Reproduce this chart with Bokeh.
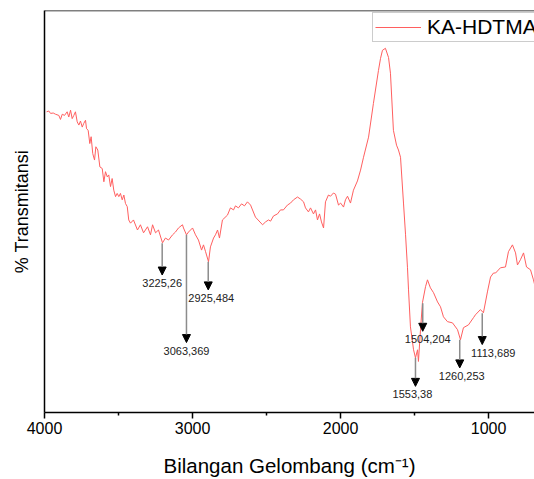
from bokeh.plotting import figure
from bokeh.models import (Range1d, FixedTicker, Arrow, NormalHead, ColumnDataSource,
                          Legend, LegendItem, Span)
from bokeh.core.properties import value
from bokeh.embed import file_html
from bokeh.resources import INLINE

# FTIR spectrum (wavenumber in cm^-1, transmittance in arbitrary %)
wavenumber = [3986, 3971, 3959, 3941, 3926, 3903, 3892, 3880, 3865, 3847, 3836, 3824, 3813, 3802,
              3791, 3779, 3768, 3757, 3745, 3735, 3723, 3716, 3705, 3694, 3685, 3674, 3662, 3653,
              3640, 3626, 3610, 3599, 3588, 3576, 3566, 3554, 3543, 3532, 3520, 3509, 3498, 3487,
              3475, 3464, 3453, 3441, 3431,
              3419, 3399, 3372, 3352, 3331, 3304, 3284, 3270, 3250, 3230, 3203, 3183, 3162, 3135,
              3115, 3095, 3068, 3061, 3041, 3027, 3000, 2980, 2960, 2939, 2926, 2912, 2892, 2879,
              2858, 2845, 2831, 2818, 2798,
              2764, 2744, 2723, 2710, 2690, 2669, 2649, 2629, 2608, 2575, 2527, 2507, 2487, 2473,
              2453, 2426, 2406, 2386, 2359, 2338, 2318, 2291, 2271, 2250, 2237, 2217, 2203, 2183,
              2169, 2156, 2142, 2129, 2115, 2102, 2082, 2068, 2048, 2034, 2014, 2000, 1980, 1967,
              1953, 1933, 1913, 1886, 1865, 1845, 1811, 1778, 1744, 1730, 1717, 1697, 1676, 1663,
              1643, 1622, 1609, 1595, 1575, 1561, 1548, 1541, 1528, 1507, 1494, 1480, 1474, 1460,
              1447, 1426, 1413, 1393, 1372, 1345, 1325, 1305, 1278, 1244, 1210, 1190, 1170, 1136,
              1102, 1089, 1055, 1035, 1008, 987, 967, 953, 920, 886, 866, 839, 818, 805, 785, 764,
              744, 717, 697, 676]
transmittance = [74.8, 75.0, 74.4, 74.5, 74.2, 73.9, 72.9, 74.2, 73.9, 74.8, 73.5, 75.2, 73.1, 73.9,
                 74.8, 72.3, 71.5, 72.5, 71.0, 71.9, 72.7, 70.6, 70.2, 66.9, 68.6, 64.4, 62.8, 66.1,
                 65.3, 61.1, 60.7, 57.4, 59.9, 58.6, 59.1, 56.2, 58.2, 55.3, 53.7, 54.5, 53.7, 54.5,
                 52.9, 54.1, 52.0, 51.2, 47.9,
                 47.1, 47.9, 45.4, 46.7, 44.7, 46.2, 44.2, 46.7, 44.7, 45.4, 42.2, 43.4, 42.9, 44.2,
                 44.9, 45.9, 46.7, 45.9, 44.2, 44.9, 45.9, 44.2, 42.9, 40.4, 41.7, 40.0, 37.5, 41.2,
                 43.4, 44.2, 45.4, 43.4, 47.9,
                 49.1, 50.9, 50.4, 51.4, 50.9, 51.9, 51.4, 52.4, 51.6, 48.6, 46.7, 47.4, 47.9, 47.6,
                 48.9, 49.4, 50.4, 50.4, 51.6, 52.1, 52.9, 53.6, 53.1, 52.4, 50.9, 49.9, 50.9, 49.4,
                 50.4, 47.9, 49.4, 47.4, 45.9, 52.4, 54.1, 53.8, 54.6, 54.3, 51.6, 52.1, 51.1, 52.9,
                 53.8, 52.1, 55.3, 57.6, 60.3, 63.5, 68.5, 76.9, 85.1, 88.1, 90.1, 90.6, 88.3, 84.4,
                 70.2, 66.5, 65.3, 63.5, 52.1, 44.2, 36.0, 30.5, 21.3, 15.6, 13.6, 15.6, 12.7, 20.6,
                 27.3, 31.3, 33.0, 31.0, 29.8, 27.5, 26.3, 23.8, 22.6, 22.3, 20.6, 18.1, 21.1, 21.8,
                 23.6, 24.3, 25.6, 24.8, 30.0, 33.7, 34.7, 34.7, 36.0, 36.2, 40.0, 41.7, 39.7, 36.7,
                 38.0, 39.7, 36.2, 35.5, 33.0, 29.8]

# Peak annotations
peak_labels = ["3225,26", "3063,369", "2925,484", "1553,38", "1504,204", "1260,253", "1113,689"]
peak_x = [3205, 3041, 2894, 1494, 1445, 1195, 1043]
peak_top = [42.1, 44.2, 37.5, 13.6, 27.2, 18.1, 24.7]
peak_tip = [34.2, 17.4, 30.5, 6.5, 20.2, 11.1, 16.9]

x_ticks = [4000, 3000, 2000, 1000]
x_minor = [3500, 2500, 1500]

# label nudges in screen pixels (style only)
label_dx = [0, 0, 3, -3, 5, 2, 11]

FONT = "Liberation Sans"

p = figure(width=534, height=479, output_backend="svg", toolbar_location=None,
           x_range=Range1d(4000, 690), y_range=Range1d(0, 100),
           min_border_left=44, min_border_right=0, min_border_top=10, min_border_bottom=0,
           background_fill_color="white", border_fill_color="white")
p.outline_line_color = None
p.xgrid.visible = False
p.ygrid.visible = False

r = p.line(wavenumber, transmittance, line_color="#ff5f5f", line_width=1)

# x axis
xa = p.xaxis[0]
xa.ticker = FixedTicker(ticks=x_ticks, minor_ticks=x_minor)
xa.axis_line_width = 1.5
xa.axis_line_color = "black"
xa.major_tick_line_width = 1.5
xa.major_tick_out = 6
xa.major_tick_in = 0
xa.minor_tick_out = 3
xa.minor_tick_in = 0
xa.minor_tick_line_width = 1.5
xa.major_label_standoff = 3
xa.major_label_text_font = FONT
xa.major_label_text_font_size = "16px"
xa.major_label_text_color = "black"
xa.axis_label = "Bilangan Gelombang (cm\u207b\u00b9)"
xa.axis_label_text_font = FONT
xa.axis_label_text_font_size = "20.5px"
xa.axis_label_text_font_style = "normal"
xa.axis_label_text_color = "black"
xa.axis_label_standoff = 17

# y axis
ya = p.yaxis[0]
ya.ticker = FixedTicker(ticks=[])
ya.axis_line_width = 1.5
ya.axis_line_color = "black"
ya.major_tick_out = 0
ya.major_tick_in = 0
ya.minor_tick_out = 0
ya.minor_tick_in = 0
ya.major_label_standoff = 0
ya.axis_label = "% Transmitansi"
ya.axis_label_text_font = FONT
ya.axis_label_text_font_size = "18px"
ya.axis_label_text_font_style = "normal"
ya.axis_label_text_color = "black"
ya.axis_label_standoff = 13

# top frame line
p.add_layout(Span(location=100, dimension="width", line_color="black", line_width=1.5))

# peak arrows and labels
src = ColumnDataSource(dict(x=peak_x, y0=peak_top, y1=peak_tip, label=peak_labels, dx=label_dx))
p.add_layout(Arrow(end=NormalHead(size=8, fill_color="black", line_color="black", line_width=1),
                   x_start="x", y_start="y0", x_end="x", y_end="y1", source=src,
                   line_color="#8c8c8c", line_width=1.5))
p.text(x="x", y="y1", text="label", source=src, text_align="center", text_baseline="middle",
       x_offset="dx", y_offset=8, text_font=value(FONT), text_font_size="11px",
       text_color="#222222")

legend = Legend(items=[LegendItem(label="KA-HDTMA", renderers=[r])], location=(328, 370),
                border_line_color="#999999", border_line_width=1, padding=2, margin=0,
                spacing=0, glyph_width=46, glyph_height=20, label_standoff=6,
                label_height=20, label_text_font=FONT, label_text_font_size="21px",
                label_text_color="black", background_fill_color="white", background_fill_alpha=1)
p.add_layout(legend)

open("out.html", "w").write(file_html(p, INLINE))
